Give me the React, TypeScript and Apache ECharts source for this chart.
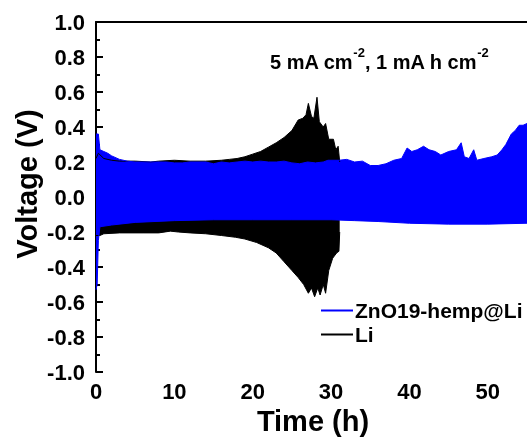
import React, { useEffect, useRef } from "react";
import * as echarts from "echarts";

// Envelope readings of the dense galvanostatic cycling curves: [time (h), voltage (V)]
const liUpper: number[][] = [
  [0, 0.22], [0.3, 0.25], [1, 0.22], [2, 0.21], [3, 0.205], [5, 0.205], [7, 0.2],
  [8, 0.205], [10, 0.21], [12, 0.205], [14, 0.205], [16, 0.21], [17, 0.215],
  [18, 0.22], [19, 0.23], [20, 0.245], [21, 0.26], [22, 0.285], [23, 0.31],
  [24, 0.34], [25, 0.38], [25.8, 0.44], [26.4, 0.45], [26.8, 0.47], [27.1, 0.535],
  [27.5, 0.46], [27.8, 0.45], [28.2, 0.57], [28.5, 0.43], [29.0, 0.40], [29.3, 0.42],
  [29.7, 0.33], [30.3, 0.33], [30.6, 0.27], [30.9, 0.29], [31.1, 0.2]
];
const liLower: number[][] = [
  [0, -0.22], [0.5, -0.22], [1, -0.21], [3, -0.205], [6, -0.205], [8, -0.205],
  [9.5, -0.195], [10.5, -0.2], [12, -0.205], [14, -0.21], [16, -0.22], [17.8, -0.23],
  [19, -0.24], [20.5, -0.26], [22, -0.29], [23, -0.32], [24, -0.37], [25, -0.42],
  [25.8, -0.46], [26.5, -0.5], [27.1, -0.55], [27.5, -0.52], [27.9, -0.57],
  [28.3, -0.52], [28.6, -0.56], [29.0, -0.5], [29.3, -0.55], [29.7, -0.42],
  [30.2, -0.35], [30.7, -0.32], [31.0, -0.31], [31.1, -0.2]
];
const znUpper: number[][] = [
  [0, 0.36], [0.3, 0.36], [0.5, 0.27], [1, 0.26], [1.5, 0.25], [2, 0.235], [3, 0.215],
  [4, 0.205], [5, 0.2], [7, 0.2], [9, 0.2], [10, 0.195], [11, 0.195], [12, 0.2],
  [14, 0.2], [15, 0.19], [16, 0.2], [17, 0.195], [18, 0.2], [19, 0.205], [20, 0.2],
  [21, 0.205], [22, 0.2], [23, 0.2], [24, 0.205], [25, 0.195], [26, 0.19], [27, 0.2],
  [28, 0.195], [29, 0.2], [29.6, 0.21], [31, 0.21], [32, 0.215], [33, 0.2], [34, 0.205],
  [35, 0.18], [36, 0.18], [37, 0.19], [38, 0.21], [39, 0.22], [39.7, 0.28], [40.3, 0.26],
  [41, 0.27], [41.8, 0.29], [42.5, 0.27], [43.3, 0.26], [44, 0.24], [45, 0.26],
  [46, 0.27], [46.6, 0.31], [47, 0.23], [47.6, 0.22], [48.2, 0.27], [48.6, 0.21],
  [49.5, 0.22], [50.5, 0.23], [51.2, 0.24], [51.8, 0.27], [52.3, 0.3], [53, 0.36],
  [53.5, 0.38], [54, 0.41], [54.5, 0.41], [55, 0.42]
];
const znLower: number[][] = [
  [0, -0.53], [0.15, -0.5], [0.3, -0.25], [0.5, -0.17], [2, -0.16], [5, -0.145],
  [10, -0.135], [15, -0.13], [20, -0.13], [25, -0.13], [30, -0.13], [33, -0.135],
  [36, -0.14], [40, -0.15], [45, -0.155], [50, -0.155], [55, -0.15]
];

const xTicks = [0, 10, 20, 30, 40, 50];
const yTicks = [-1.0, -0.8, -0.6, -0.4, -0.2, 0.0, 0.2, 0.4, 0.6, 0.8, 1.0];
const seriesNames = ["ZnO19-hemp@Li", "Li"];

const FONT = "'Liberation Sans', Arial, Helvetica, sans-serif";
const BLUE = "#0000ff";
const BLACK = "#000000";

export default function App() {
  const ref = useRef<HTMLDivElement>(null);
  useEffect(() => {
    if (!ref.current) return;
    const chart = echarts.init(ref.current, undefined, { renderer: "svg" });
    const band = (name: string, data: number[][], color: string) => ({
      name,
      type: "line",
      xAxisIndex: 0,
      yAxisIndex: 0,
      data,
      symbol: "none",
      color,
      lineStyle: { color, width: 1 },
      areaStyle: { color, opacity: 1 },
      itemStyle: { color },
    });
    chart.setOption({
      animation: false,
      grid: { left: 96, top: 22, right: -3, bottom: 67, containLabel: false },
      xAxis: [
        {
          type: "value", position: "bottom", min: xTicks[0], max: 55, interval: 10,
          axisLine: { show: true, lineStyle: { color: BLACK, width: 2 } },
          axisTick: { show: true, inside: true, length: 7, lineStyle: { color: BLACK, width: 2 } },
          axisLabel: { show: true, showMaxLabel: false, margin: 8, color: BLACK, fontSize: 22, fontWeight: "bold", fontFamily: FONT },
          splitLine: { show: false },
        },
        {
          type: "value", position: "bottom", min: 0, max: 55, interval: 5,
          axisLine: { show: false },
          axisTick: { show: true, inside: true, length: 4, lineStyle: { color: BLACK, width: 2 } },
          axisLabel: { show: false },
          splitLine: { show: false },
        },
        {
          type: "value", position: "top", min: 0, max: 55, interval: 10,
          axisLine: { show: true, lineStyle: { color: BLACK, width: 2 } },
          axisTick: { show: false },
          axisLabel: { show: false },
          splitLine: { show: false },
        },
      ],
      yAxis: [
        {
          type: "value", position: "left", min: yTicks[0], max: yTicks[yTicks.length - 1], interval: 0.2,
          axisLine: { show: true, lineStyle: { color: BLACK, width: 2 } },
          axisTick: { show: true, inside: true, length: 7, lineStyle: { color: BLACK, width: 2 } },
          axisLabel: {
            show: true, margin: 11, color: BLACK, fontSize: 22, fontWeight: "bold", fontFamily: FONT,
            formatter: (v: number) => (Math.abs(v) < 1e-9 ? "0.0" : v.toFixed(1)),
          },
          splitLine: { show: false },
        },
        {
          type: "value", position: "left", min: -1, max: 1, interval: 0.1,
          axisLine: { show: false },
          axisTick: { show: true, inside: true, length: 4, lineStyle: { color: BLACK, width: 2 } },
          axisLabel: { show: false },
          splitLine: { show: false },
        },
      ],
      legend: {
        data: seriesNames,
        orient: "vertical",
        left: 316,
        top: 295,
        icon: "rect",
        itemWidth: 32,
        itemHeight: 2,
        itemGap: 3,
        textStyle: { color: BLACK, fontSize: 21, fontWeight: "bold", fontFamily: FONT, padding: [0, 0, 0, -3] },
        selectedMode: false,
      },
      graphic: [
        {
          type: "text",
          x: 27, y: 184, rotation: Math.PI / 2,
          style: {
            text: "Voltage (V)", fill: BLACK, font: `bold 29px ${FONT}`,
            textAlign: "center", textVerticalAlign: "middle",
          },
        },
        {
          type: "text",
          x: 313, y: 421,
          style: {
            text: "Time (h)", fill: BLACK, font: `bold 29px ${FONT}`,
            textAlign: "center", textVerticalAlign: "middle",
          },
        },
        {
          type: "text",
          x: 270, y: 59,
          style: {
            text: "{n|5 mA cm}{s|-2}{n|, 1 mA h cm}{s|-2}",
            textAlign: "left", textVerticalAlign: "middle",
            rich: {
              n: { fontSize: 20, fontWeight: "bold", fontFamily: FONT, fill: BLACK, lineHeight: 26, verticalAlign: "bottom" },
              s: { fontSize: 13, fontWeight: "bold", fontFamily: FONT, fill: BLACK, lineHeight: 26, verticalAlign: "top" },
            },
          },
        },
      ],
      series: [
        band(seriesNames[1], liUpper, BLACK),
        band(seriesNames[1], liLower, BLACK),
        band(seriesNames[0], znUpper, BLUE),
        band(seriesNames[0], znLower, BLUE),
      ],
    });
    return () => chart.dispose();
  }, []);
  return <div ref={ref} style={{ position: "fixed", left: 0, top: 0, width: 527, height: 439 }} />;
}
